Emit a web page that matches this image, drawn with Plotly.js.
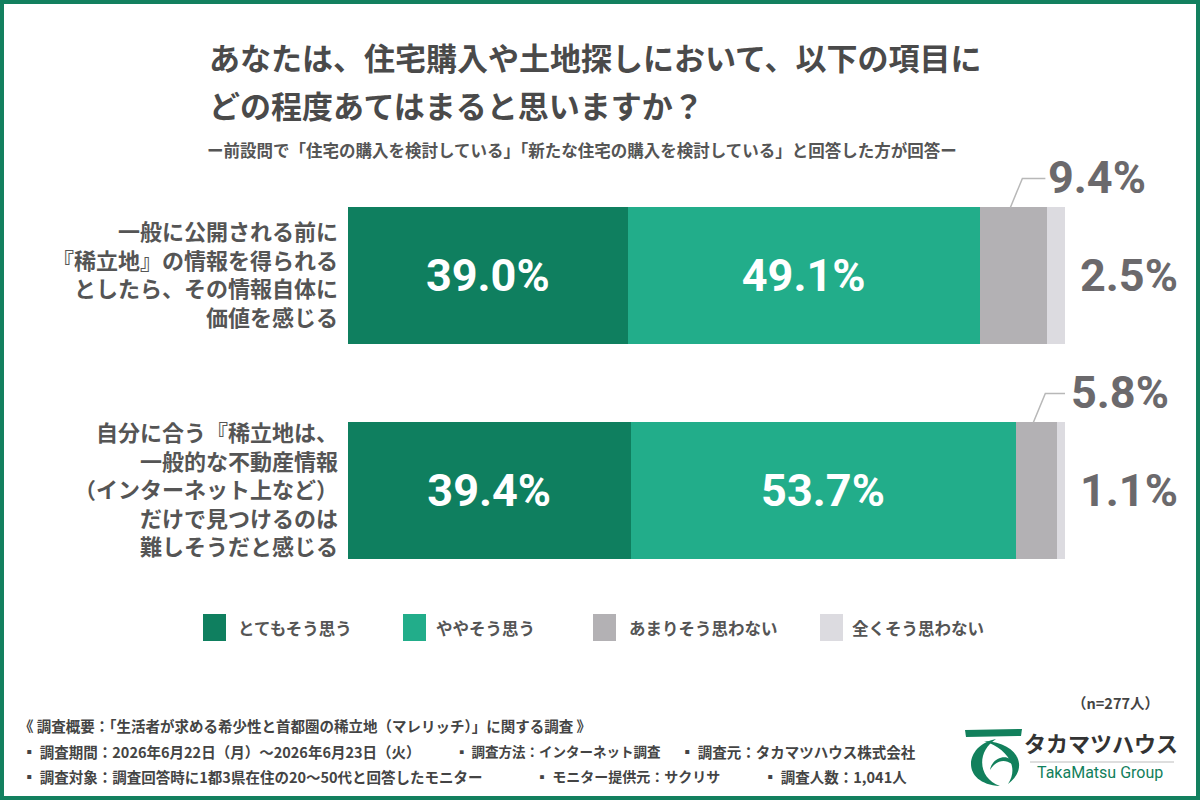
<!DOCTYPE html>
<html><head><meta charset="utf-8">
<script src="https://cdn.plot.ly/plotly-3.0.1.min.js"></script>
<style>html,body{margin:0;padding:0;background:#fff;} #chart{width:1200px;height:800px;}</style>
</head><body><div id="chart"></div>
<script>
// ---- data ----
const categories = [
  "一般に公開される前に<br>『稀立地』の情報を得られる<br>としたら、その情報自体に<br>価値を感じる",
  "自分に合う『稀立地は、<br>一般的な不動産情報<br>（インターネット上など）<br>だけで見つけるのは<br>難しそうだと感じる"
];
const seriesNames = ["とてもそう思う", "ややそう思う", "あまりそう思わない", "全くそう思わない"];
const verySo = [39.0, 39.4];
const somewhatSo = [49.1, 53.7];
const notMuch = [9.4, 5.8];
const notAtAll = [2.5, 1.1];
const sampleNote = "（n=277人）";
const titleLines = ["あなたは、住宅購入や土地探しにおいて、以下の項目に", "どの程度あてはまると思いますか？"];
const subtitle = "ー前設問で「住宅の購入を検討している」「新たな住宅の購入を検討している」と回答した方が回答ー";
const footer1 = ["《 調査概要：「生活者が求める希少性と首都圏の稀立地（マレリッチ）」に関する調査 》"];
const footer2 = ["▪ 調査期間：2026年6月22日（月）～2026年6月23日（火）", "▪ 調査方法：インターネット調査", "▪ 調査元：タカマツハウス株式会社"];
const footer3 = ["▪ 調査対象：調査回答時に1都3県在住の20～50代と回答したモニター", "▪ モニター提供元：サクリサ", "▪ 調査人数：1,041人"];

// ---- styles / layout ----
const colors = ["#0f7f5f", "#22ad8a", "#b3b1b4", "#dcdbe0"];
const JP = "'Noto Sans CJK JP', 'Noto Sans', sans-serif";
const NUM = "Roboto, 'Noto Sans', sans-serif";
const W = 1200, H = 800, ML = 348, MR = 135, MT = 168, MB = 202;
const PW = W - ML - MR, PH = H - MT - MB;
const px = x => (x - ML) / PW;
const py = y => (H - MB - y) / PH;
const P = (x, y) => px(x) + "," + py(y);
const barWidth = 0.633;
const legendSwatchX = [203, 403, 593, 820];
const legendTextX = [236, 434, 627, 850];
const footer2X = [20, 453, 678];
const footer2Size = [14.5, 13.5, 14.5];
const footer3X = [20, 533, 761];
const footer3Size = [14.5, 14, 14.5];

const idx = categories.map((_, i) => i);
const series = [verySo, somewhatSo, notMuch, notAtAll];
const fmt = v => v.toFixed(1) + "%";

const traces = series.map((vals, i) => ({
  type: "bar", orientation: "h", x: vals, y: idx, name: seriesNames[i],
  width: barWidth,
  marker: {color: colors[i], line: {width: 0}},
  text: i < 2 ? vals.map(fmt) : vals.map(() => ""),
  textposition: i < 2 ? "inside" : "none",
  insidetextanchor: "middle",
  textfont: {family: NUM, size: 45, color: "#ffffff", weight: "bold"},
  hoverinfo: "skip", showlegend: false
}));

const annotations = [];
const shapes = [];
const grayBig = {family: NUM, size: 45, color: "#6b696c", weight: "bold"};

idx.forEach(j => {
  const cum2 = verySo[j] + somewhatSo[j];
  const mid = cum2 + notMuch[j] / 2;
  const total = cum2 + notMuch[j] + notAtAll[j];
  const top = j - barWidth / 2;
  annotations.push({x: mid, y: top, xref: "x", yref: "y", text: fmt(notMuch[j]), showarrow: false,
    xanchor: "left", yanchor: "middle", xshift: 33, yshift: 30, font: grayBig});
  annotations.push({x: total, y: j, xref: "x", yref: "y", text: fmt(notAtAll[j]), showarrow: false,
    xanchor: "left", yanchor: "middle", xshift: 13, font: grayBig});
  shapes.push({type: "path", xref: "x", yref: "y", xsizemode: "pixel", ysizemode: "pixel",
    xanchor: mid, yanchor: top, path: "M-3,0 L9,29 L32,29", line: {color: "#b8b8b8", width: 1.5}});
});

// titles
const titleFont = {family: JP, size: 31, color: "#4a4a4a", weight: "bold"};
annotations.push({xref: "paper", yref: "paper", x: px(207), y: py(57), text: titleLines[0], showarrow: false, xanchor: "left", yanchor: "middle", font: titleFont});
annotations.push({xref: "paper", yref: "paper", x: px(207), y: py(104), text: titleLines[1], showarrow: false, xanchor: "left", yanchor: "middle", font: titleFont});
annotations.push({xref: "paper", yref: "paper", x: px(582), y: py(150), text: subtitle, showarrow: false, xanchor: "center", yanchor: "middle",
  font: {family: JP, size: 16.5, color: "#555555", weight: "bold"}});

// legend
seriesNames.forEach((n, i) => {
  shapes.push({type: "rect", xref: "paper", yref: "paper", x0: px(legendSwatchX[i]), x1: px(legendSwatchX[i] + 23),
    y0: py(614), y1: py(641), fillcolor: colors[i], line: {width: 0}});
  annotations.push({xref: "paper", yref: "paper", x: px(legendTextX[i]), y: py(628), text: n, showarrow: false,
    xanchor: "left", yanchor: "middle", font: {family: JP, size: 16.5, color: "#555555", weight: "bold"}});
});

// footer
const fFont = s => ({family: JP, size: s, color: "#444444", weight: "bold"});
annotations.push({xref: "paper", yref: "paper", x: px(1161), y: py(702), text: sampleNote, showarrow: false, xanchor: "right", yanchor: "middle", font: fFont(14.5)});
annotations.push({xref: "paper", yref: "paper", x: px(17), y: py(725), text: footer1[0], showarrow: false, xanchor: "left", yanchor: "middle", font: fFont(14.5)});
footer2.forEach((t, i) => annotations.push({xref: "paper", yref: "paper", x: px(footer2X[i]), y: py(751), text: t, showarrow: false, xanchor: "left", yanchor: "middle", font: fFont(footer2Size[i])}));
footer3.forEach((t, i) => annotations.push({xref: "paper", yref: "paper", x: px(footer3X[i]), y: py(776), text: t, showarrow: false, xanchor: "left", yanchor: "middle", font: fFont(footer3Size[i])}));

// logo
const logoGreen = "#12805c";
shapes.push({type: "path", xref: "paper", yref: "paper", fillcolor: logoGreen, line: {width: 0},
  path: "M" + P(965, 730) + " L" + P(1022, 729) + " L" + P(1021, 736) + " L" + P(966, 737) + " Z"});
shapes.push({type: "path", xref: "paper", yref: "paper", fillcolor: logoGreen, line: {width: 0},
  path: "M" + P(996, 739) + " C" + P(964, 745) + " " + P(960, 784) + " " + P(1000, 786) + " C" + P(978, 778) + " " + P(976, 752) + " " + P(996, 739) + " Z"});
shapes.push({type: "path", xref: "paper", yref: "paper", fillcolor: logoGreen, line: {width: 0},
  path: "M" + P(984, 741) + " C" + P(1018, 742) + " " + P(1030, 768) + " " + P(1008, 784) + " C" + P(1020, 766) + " " + P(1006, 748) + " " + P(984, 741) + " Z"});
shapes.push({type: "path", xref: "paper", yref: "paper", fillcolor: logoGreen, line: {width: 0},
  path: "M" + P(990, 770) + " C" + P(992, 756) + " " + P(1012, 752) + " " + P(1014, 766) + " C" + P(1006, 758) + " " + P(996, 760) + " " + P(990, 770) + " Z"});
shapes.push({type: "line", xref: "paper", yref: "paper", x0: px(1030), x1: px(1174), y0: py(762), y1: py(762), line: {color: "#bdbdbd", width: 1}});
annotations.push({xref: "paper", yref: "paper", x: px(1101), y: py(742), text: "タカマツハウス", showarrow: false, xanchor: "center", yanchor: "middle",
  font: {family: JP, size: 22, color: "#333333", weight: "bold"}});
annotations.push({xref: "paper", yref: "paper", x: px(1100), y: py(772), text: "TakaMatsu Group", showarrow: false, xanchor: "center", yanchor: "middle",
  font: {family: "Roboto, 'Noto Sans', sans-serif", size: 16, color: logoGreen}});

// border
shapes.push({type: "rect", xref: "paper", yref: "paper", x0: px(2), x1: px(1198), y0: py(2), y1: py(798),
  line: {color: "#13805f", width: 4}, fillcolor: "rgba(0,0,0,0)"});

const layout = {
  width: W, height: H, barmode: "stack", bargap: 0,
  margin: {l: ML, r: MR, t: MT, b: MB, pad: 0},
  paper_bgcolor: "#ffffff", plot_bgcolor: "#ffffff",
  showlegend: false,
  xaxis: {range: [0, 100], visible: false, fixedrange: true},
  yaxis: {range: [idx.length - 0.5, -0.5], tickvals: idx, ticktext: categories, ticks: "", showgrid: false,
    zeroline: false, showline: false, ticklabelstandoff: 9,
    tickfont: {family: JP, size: 22, color: "#555555", weight: "bold"}, fixedrange: true},
  annotations: annotations, shapes: shapes,
  font: {family: JP}
};

Plotly.newPlot("chart", traces, layout, {displayModeBar: false, staticPlot: true});
</script>
</body></html>
